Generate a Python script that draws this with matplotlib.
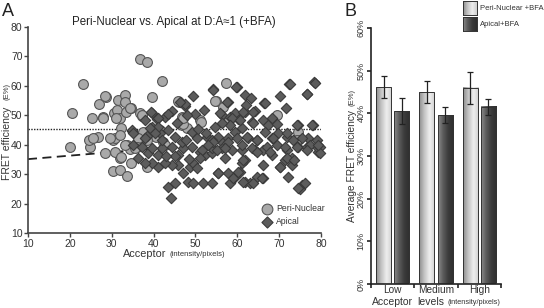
import numpy as np
import matplotlib
matplotlib.use('Agg')
import matplotlib.pyplot as plt
from matplotlib.colors import LinearSegmentedColormap

# ---- data ----
peri_x = [20.0, 20.5, 23.1, 25.3, 24.8, 24.6, 26.7, 27.0, 27.9, 28.6, 30.3, 30.5, 31.5, 31.2,
          32.0, 30.8, 33.2, 33.2, 33.4, 34.6, 32.2, 33.6, 34.3, 36.7, 38.4, 36.7, 37.2, 37.4,
          36.3, 36.0, 39.6, 42.0, 40.5, 42.2, 42.7, 46.1, 46.7, 46.9, 47.9, 51.1, 54.9, 56.5,
          57.3, 58.0, 69.4, 74.4, 74.4, 28.4, 32.0, 30.3, 32.0, 33.6, 34.6, 30.8, 38.4, 45.8,
          54.6, 51.3, 47.0, 74.2, 28.4, 27.9, 31.0, 25.5, 29.6, 32.0, 32.2, 35.5, 38.4, 41.5,
          47.0, 34.3, 33.2, 37.2]
peri_y = [39.2, 50.8, 60.6, 49.1, 39.2, 41.6, 42.6, 53.8, 49.4, 56.2, 41.6, 50.8, 55.2, 51.8,
          49.1, 42.3, 56.9, 54.5, 51.1, 52.4, 45.7, 39.9, 38.5, 69.1, 68.1, 50.8, 49.8, 44.3,
          42.3, 39.2, 56.2, 61.6, 42.6, 40.9, 39.9, 54.5, 49.4, 46.7, 45.7, 48.4, 54.8, 52.8,
          61.0, 48.4, 50.1, 44.3, 41.6, 37.2, 35.5, 31.1, 31.4, 29.4, 33.8, 37.5, 32.4, 54.8,
          54.8, 47.7, 47.0, 41.6, 56.5, 49.1, 49.1, 42.3, 42.3, 43.3, 35.8, 38.9, 41.6, 45.0,
          49.1, 52.4, 39.9, 50.1]

apical_x = [34.8, 39.6, 40.8, 42.7, 44.4, 39.6, 38.4, 41.5, 43.4, 45.6, 47.5, 49.4,
            54.2, 59.9, 61.8, 63.2, 66.3, 72.3, 78.3, 76.6, 70.1, 71.6, 57.7, 52.0, 47.5, 46.3,
            39.4, 43.4, 41.0, 49.9, 48.0, 56.3, 58.2, 61.8, 64.2, 60.1, 63.5, 66.1, 68.2,
            67.3, 69.4, 74.4, 78.0, 41.0, 39.1, 37.9, 34.8,
            44.1, 43.4, 45.1, 47.0, 48.2, 49.4, 51.8, 53.9, 55.3, 57.7, 58.2, 59.4, 60.6, 61.8,
            63.0, 64.7, 66.1, 66.1, 61.8, 61.1, 70.1, 72.1, 75.4, 76.1, 74.9, 73.0, 71.3, 57.0,
            52.2, 53.9, 51.1, 48.7, 49.4, 50.3, 45.8, 44.4, 42.7, 41.0, 39.6, 37.9, 36.3, 45.8,
            41.0, 38.6, 68.2, 73.0, 74.4, 76.6, 79.2, 79.0, 66.1, 64.2, 61.1, 58.7, 56.3, 53.9,
            51.5, 49.1, 47.0, 44.4, 42.0, 39.6, 37.2, 35.1,
            35.1, 37.9, 40.3, 42.0, 45.1, 46.7, 49.1, 50.3, 52.7, 55.8, 57.7, 59.4, 61.1, 62.5,
            64.7, 66.6, 68.2, 69.7, 71.8, 73.2, 76.8, 79.0, 54.6,
            54.2, 59.6, 72.5, 78.5, 76.6, 66.6, 57.5, 62.0, 55.8, 59.4, 61.3, 63.7, 58.7, 60.6,
            63.7, 58.2, 56.3, 74.2, 77.8, 71.8, 75.4, 79.7, 77.3, 68.5, 64.7, 62.3, 59.9, 57.7,
            55.3, 53.9, 61.1, 63.5, 67.0, 69.4, 71.8, 55.1,
            54.2, 57.0, 61.3, 60.1, 55.3, 58.9, 61.3, 63.7, 65.8, 70.1, 74.4, 71.8, 73.6, 64.7,
            67.8, 71.3, 74.2, 76.6, 79.7, 79.2, 50.5, 52.5, 47.8, 45.0, 43.0, 48.5, 51.0, 53.0]
apical_y = [44.6, 50.8, 48.7, 49.4, 51.4, 46.0, 42.9, 44.0, 45.0, 47.4, 53.1, 56.5,
            58.9, 59.6, 56.9, 55.9, 54.2, 60.6, 61.3, 57.2, 56.5, 52.4, 54.5, 51.8, 53.8, 54.5,
            51.1, 50.4, 49.1, 50.4, 50.1, 50.1, 49.4, 51.1, 51.4, 48.7, 47.7, 48.4, 49.1,
            46.7, 47.0, 46.7, 46.7, 46.0, 45.7, 48.4, 45.0,
            21.9, 25.6, 26.9, 30.3, 27.3, 26.9, 26.9, 26.9, 30.3, 30.3, 26.9, 29.0, 30.7, 27.3,
            26.9, 29.0, 28.6, 33.1, 34.8, 33.8, 32.4, 29.0, 26.3, 26.9, 24.9, 33.1, 34.8, 35.5,
            36.5, 37.2, 37.5, 32.4, 33.8, 32.1, 33.1, 33.1, 33.8, 32.4, 33.8, 33.8, 35.5, 36.5,
            36.5, 37.2, 36.5, 35.5, 39.2, 39.2, 37.5, 39.2, 38.2, 38.2, 38.2, 38.2, 38.8, 38.8,
            38.2, 39.2, 38.8, 39.2, 38.8, 38.8, 39.2, 39.9,
            43.9, 42.3, 43.9, 41.6, 42.6, 40.9, 44.3, 42.3, 42.6, 41.6, 42.3, 44.3, 45.7, 42.3,
            41.6, 44.3, 42.3, 43.9, 42.6, 41.6, 42.3, 41.6, 46.0,
            58.6, 59.6, 60.6, 61.0, 57.2, 54.2, 54.5, 53.5, 50.8, 50.8, 51.1, 51.1, 49.1, 48.4,
            47.4, 46.7, 47.4, 46.7, 46.7, 43.9, 42.3, 39.2, 39.9, 42.3, 41.6, 42.6, 42.3, 40.9,
            42.6, 41.6, 39.9, 38.9, 39.2, 39.9, 38.2, 38.2,
            40.9, 38.8, 34.8, 30.7, 30.3, 28.6, 27.3, 26.9, 28.6, 32.4, 25.3, 35.5, 34.8, 37.5,
            37.5, 39.2, 39.2, 38.2, 37.2, 39.9, 45.5, 44.0, 41.5, 36.0, 36.0, 35.0, 35.5, 40.0]

# bar chart
levels = ['Low', 'Medium', 'High']
peri_mean = [46.1, 45.0, 46.0]
peri_err = [2.6, 2.5, 3.8]
apical_mean = [40.5, 39.6, 41.5]
apical_err = [3.0, 1.8, 1.9]

W, H = 544, 308
plt.rcParams['font.family'] = ['Liberation Sans', 'DejaVu Sans']
fig = plt.figure(figsize=(W / 100, H / 100), dpi=100)

def fx(px):
    return px / W

def fy(py):
    return 1 - py / H

tcol = '#333333'
scol = '#444444'

# ================= panel A =================
ax = fig.add_axes([fx(28), fy(233), fx(321) - fx(28), fy(27) - fy(233)])
ax.set_xlim(10, 80)
ax.set_ylim(10, 80)
for s in ['top', 'right']:
    ax.spines[s].set_visible(False)
for s in ['left', 'bottom']:
    ax.spines[s].set_color(scol)
    ax.spines[s].set_linewidth(1.2)
ax.set_xticks(np.arange(10, 81, 10))
ax.set_yticks(np.arange(10, 81, 10))
ax.tick_params(direction='out', length=3, width=1, color=scol, labelsize=7.5,
               labelcolor=tcol, pad=1)

ax.plot([10, 80], [45.2, 45.2], color='#222222', lw=1.0, ls=(0, (1, 1)), zorder=1)
ax.plot([10, 42], [35.1, 38.9], color='#222222', lw=1.3, ls=(0, (5, 3)), zorder=1)

ax.scatter(peri_x, peri_y, s=50, marker='o', facecolor='#a9a9a9', edgecolor='#555555',
           linewidth=0.8, zorder=3, clip_on=False)
ax.scatter(apical_x, apical_y, s=28, marker='D', facecolor='#5c5c5c', edgecolor='#3a3a3a',
           linewidth=0.8, zorder=4, clip_on=False)

# legend A
ax.scatter([67.0], [18.2], s=60, marker='o', facecolor='#a9a9a9', edgecolor='#555555',
           linewidth=0.8, zorder=5, clip_on=False)
ax.scatter([67.0], [13.8], s=32, marker='D', facecolor='#5c5c5c', edgecolor='#3a3a3a',
           linewidth=0.8, zorder=5, clip_on=False)
ax.text(69.3, 18.2, 'Peri-Nuclear', fontsize=6.2, color=tcol, va='center')
ax.text(69.3, 13.8, 'Apical', fontsize=6.2, color=tcol, va='center')

fig.text(fx(2), fy(11), 'A', fontsize=13, color='#222222', va='center')
fig.text(fx(174), fy(22), 'Peri-Nuclear vs. Apical at D:A\u22481 (+BFA)', fontsize=8.3,
         color='#222222', ha='center', va='center')
fig.text(fx(7), fy(143), 'FRET efficiency', fontsize=7.5, rotation=90, color=tcol,
         ha='center', va='center')
fig.text(fx(7), fy(92), '(E%)', fontsize=5.5, rotation=90, color=tcol, ha='center',
         va='center')
fig.text(fx(166), fy(254), 'Acceptor', fontsize=7.8, color=tcol, ha='right', va='center')
fig.text(fx(169), fy(255), '(intensity/pixels)', fontsize=5.5, color=tcol, ha='left',
         va='center')

# ================= panel B =================
bx = fig.add_axes([fx(371), fy(284), fx(501) - fx(371), fy(28) - fy(284)])
for s in ['top', 'right']:
    bx.spines[s].set_visible(False)
for s in ['left', 'bottom']:
    bx.spines[s].set_color('#222222')
    bx.spines[s].set_linewidth(1.2)
bx.set_yticks(np.arange(0, 61, 10))
bx.set_yticklabels(['%d%%' % v for v in range(0, 61, 10)], rotation=90, va='center')
bx.set_xticks([0, 1, 2, 3])
bx.set_xticklabels([])
bx.set_xticks([0.5, 1.5, 2.5], minor=True)
bx.set_xticklabels(levels, minor=True)
bx.tick_params(axis='x', which='minor', length=0, labelsize=7.3, labelcolor=tcol, pad=1)
bx.tick_params(axis='x', which='major', direction='out', length=3, width=1.2, color='#222222')
bx.tick_params(axis='y', direction='out', length=3, width=1.2, color='#222222', labelsize=6.5,
               labelcolor=tcol, pad=1)

light = LinearSegmentedColormap.from_list('light', ['#8c8c8c', '#c4c4c4', '#eeeeee', '#d0d0d0'])
dark = LinearSegmentedColormap.from_list('dark', ['#8a8a8a', '#5a5a5a', '#3a3a3a', '#2e2e2e'])
grad = np.linspace(0, 1, 64).reshape(1, -1)

bw = 0.35
for i in range(3):
    for off, vals, errs, cm in [(0.29, peri_mean, peri_err, light),
                                (0.71, apical_mean, apical_err, dark)]:
        x0 = i + off - bw / 2
        v = vals[i]
        bx.imshow(grad, cmap=cm, extent=[x0, x0 + bw, 0, v], aspect='auto', zorder=2)
        bx.add_patch(plt.Rectangle((x0, 0), bw, v, fill=False, edgecolor='#333333', lw=0.7,
                                   zorder=3))
        bx.errorbar(i + off, v, yerr=errs[i], color='#222222', lw=0.9, capsize=2.5,
                    capthick=0.9, zorder=4)
bx.set_xlim(0, 3)
bx.set_ylim(0, 60)

# legend B
for py0, cm, lab in [(1, light, 'Peri-Nuclear +BFA'), (17, dark, 'Apical+BFA')]:
    la = fig.add_axes([fx(463), fy(py0 + 14), fx(477) - fx(463), fy(py0) - fy(py0 + 14)])
    la.imshow(grad, cmap=cm, aspect='auto')
    la.set_xticks([])
    la.set_yticks([])
    for s in la.spines.values():
        s.set_color('#333333')
        s.set_linewidth(0.7)
    fig.text(fx(480), fy(py0 + 7), lab, fontsize=5.5, color=tcol, va='center')

fig.text(fx(344), fy(11), 'B', fontsize=13, color='#222222', va='center')
fig.text(fx(352), fy(166), 'Average FRET efficiency', fontsize=7.3, rotation=90, color=tcol,
         ha='center', va='center')
fig.text(fx(352), fy(97), '(E%)', fontsize=5.5, rotation=90, color=tcol, ha='center',
         va='center')
fig.text(fx(392), fy(302), 'Acceptor', fontsize=7.5, color=tcol, ha='center', va='center')
fig.text(fx(431), fy(302), 'levels', fontsize=7.5, color=tcol, ha='center', va='center')
fig.text(fx(474), fy(303), '(intensity/pixels)', fontsize=5.3, color=tcol, ha='center',
         va='center')

fig.savefig('out.png', dpi=100)
